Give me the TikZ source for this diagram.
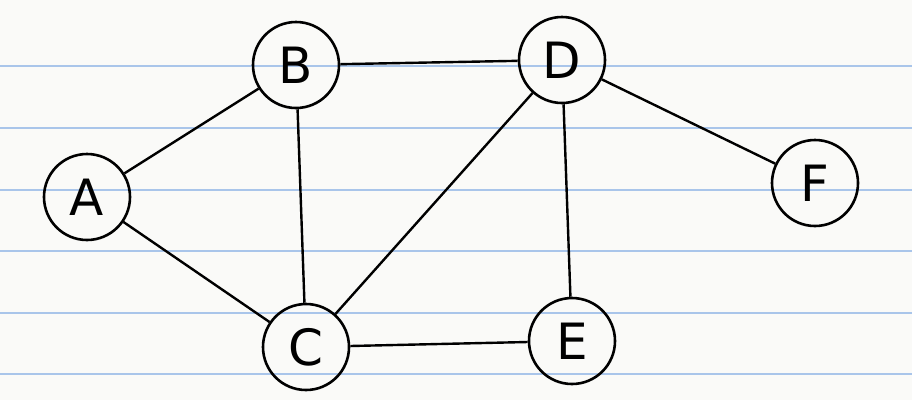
\documentclass[tikz,border=0pt]{standalone}
\usepackage{fontspec}
\setmainfont{DejaVu Sans}
\usepackage{xcolor}
\usepackage{tikz}
\definecolor{paper}{HTML}{FAFAF8}
\definecolor{ruling}{HTML}{A9C5EA}

\begin{document}
\begin{tikzpicture}[
  x=1pt, y=-1pt,
  vertex/.style={draw, circle, line width=2.6pt, minimum size=86pt, inner sep=0pt, font=\fontsize{50}{50}\selectfont},
  edge/.style={line width=2.4pt}
]
\fill[paper] (0,0) rectangle (912,400);
\useasboundingbox (0,0) rectangle (912,400);
\foreach \yy in {66,128,190,251,313,374}
  \draw[ruling, line width=2pt] (0,\yy) -- (912,\yy);

\node[vertex] (a) at (87,197) {A};
\node[vertex] (b) at (296,65) {B};
\node[vertex] (c) at (306,347) {C};
\node[vertex] (d) at (562,60) {D};
\node[vertex] (e) at (572,341) {E};
\node[vertex] (f) at (815,183) {F};

\draw[edge] (a) -- (b);
\draw[edge] (a) -- (c);
\draw[edge] (b) -- (c);
\draw[edge] (b) -- (d);
\draw[edge] (c) -- (d);
\draw[edge] (c) -- (e);
\draw[edge] (d) -- (e);
\draw[edge] (d) -- (f);
\end{tikzpicture}
\end{document}
